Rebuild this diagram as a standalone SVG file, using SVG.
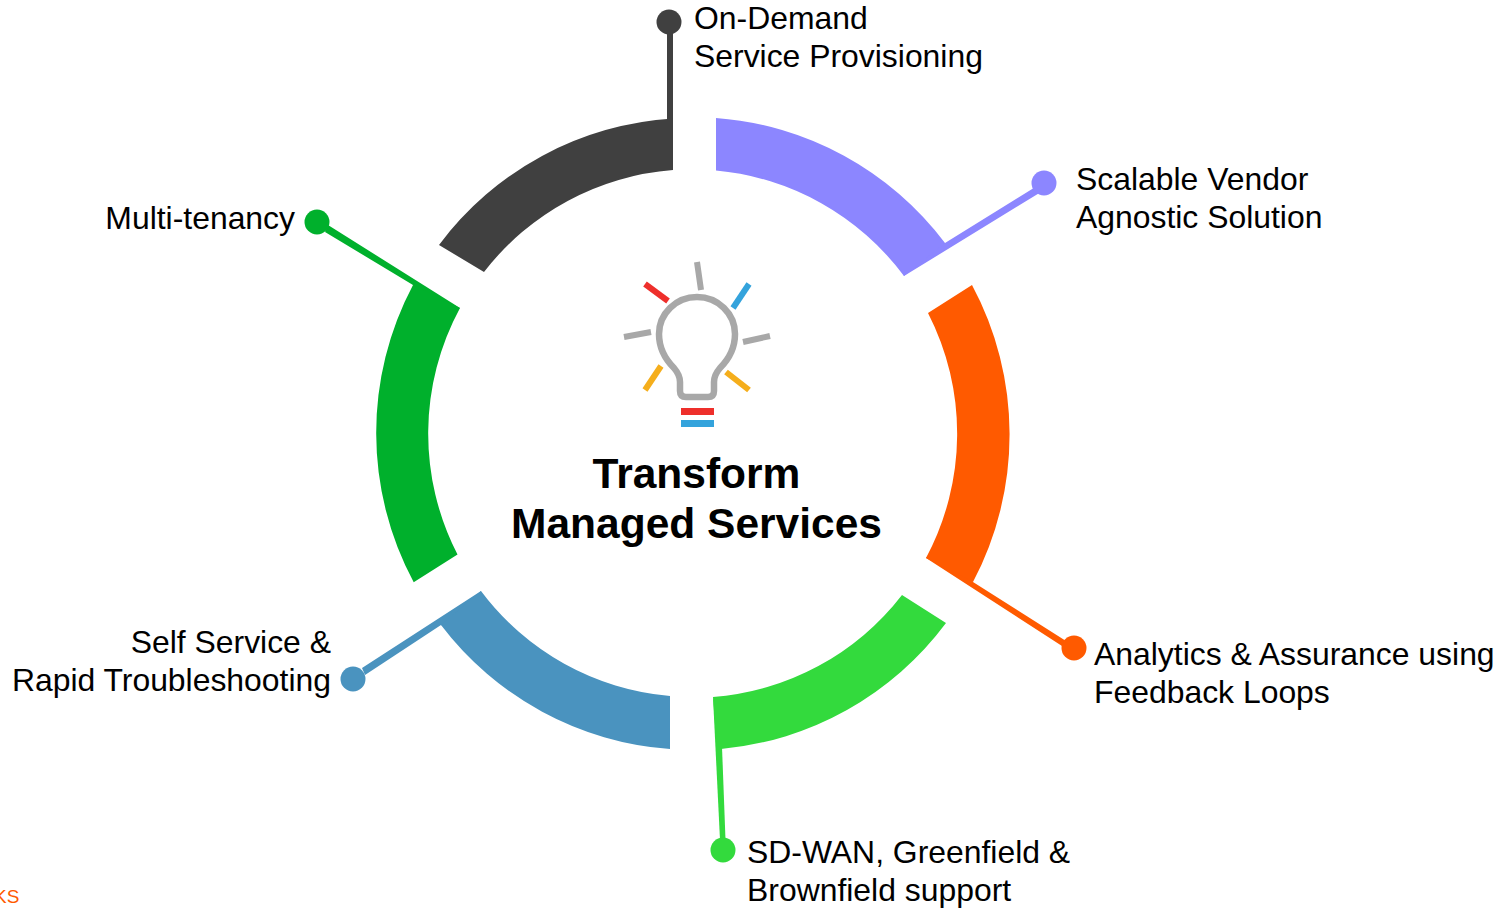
<svg xmlns="http://www.w3.org/2000/svg" width="1505" height="908" viewBox="0 0 1505 908">
<style>
text{font-family:"Liberation Sans",Arial,sans-serif;font-size:31.9px;fill:#000}
.title{font-size:42.5px;font-weight:bold;text-anchor:middle}
.end{text-anchor:end}
.ray{fill:none;stroke-width:6}
</style>
<rect width="1505" height="908" fill="#fff"/>
<g id="connectors">
<path fill="#404040" d="M667,22H673V170H667Z"/>
<path fill="#8c86ff" d="M945,243L1037,186L1041,192L904,276L890,240Z"/>
<path fill="#ff5a00" d="M973,582L1066,641L1062,646L926,558L950,530Z"/>
<path fill="#33da3d" d="M713,697L721,720L725.500,840L720,840Z"/>
<path fill="#4a93bf" d="M481,591L362,668L365,675L441,625L480,640Z"/>
<path fill="#00b02c" d="M460,308L328,225L325,232L413,285L420,330Z"/>
</g>
<g id="node-on-demand">
<path fill="#404040" d="M673,118.500A316,316 0 0 0 439,245L484,272A264,264 0 0 1 673,170Z"/>
<circle cx="669" cy="22" r="12.500" fill="#404040"/>
<text x="694" y="29">On-Demand</text><text x="694" y="67">Service Provisioning</text>
</g>
<g id="node-scalable">
<path fill="#8c86ff" d="M716,118A316,316 0 0 1 945,243L904,276A264,264 0 0 0 716,170.500Z"/>
<circle cx="1044" cy="183" r="12.500" fill="#8c86ff"/>
<text x="1076" y="190">Scalable Vendor</text><text x="1076" y="228">Agnostic Solution</text>
</g>
<g id="node-analytics">
<path fill="#ff5a00" d="M972,285A316,316 0 0 1 973,582L926,558A264,264 0 0 0 928,313Z"/>
<circle cx="1074" cy="648" r="12.500" fill="#ff5a00"/>
<text x="1094" y="665">Analytics &amp; Assurance using</text><text x="1094" y="703">Feedback Loops</text>
</g>
<g id="node-sdwan">
<path fill="#33da3d" d="M946,623A316,316 0 0 1 721,749H717L713,697A264,264 0 0 0 902,595Z"/>
<circle cx="723" cy="850" r="12.500" fill="#33da3d"/>
<text x="747" y="863">SD-WAN, Greenfield &amp;</text><text x="747" y="901">Brownfield support</text>
</g>
<g id="node-self-service">
<path fill="#4a93bf" d="M670,749A316,316 0 0 1 441,625L481,591A264,264 0 0 0 670,696Z"/>
<circle cx="353" cy="679" r="12.500" fill="#4a93bf"/>
<text class="end" x="331" y="653">Self Service &amp;</text><text class="end" x="331" y="691">Rapid Troubleshooting</text>
</g>
<g id="node-multi-tenancy">
<path fill="#00b02c" d="M413.700,582.300A316,316 0 0 1 413,285L460,308A264,264 0 0 0 457.500,554.500Z"/>
<circle cx="317" cy="222" r="12.500" fill="#00b02c"/>
<text class="end" x="295" y="229">Multi-tenancy</text>
</g>
<g id="node-center">
<g class="ray">
<path stroke="#a8a8a8" d="M697,262L701,290M624,337L651,332M743,342L770,336"/>
<path stroke="#ee2f2b" d="M645,284L668,301"/>
<path stroke="#34a3dc" d="M749,284L733,308"/>
<path stroke="#f5ae1c" d="M661,366L645,390M726,372L749,390"/>
</g>
<path fill="none" stroke="#a8a8a8" stroke-width="6.500" d="M686,397H708Q714,397 714,391V382Q714,375 720,368C728,360 735,350 735,334A38,37 0 0 0 659,334C659,350 666,360 674,368Q680,375 680,382V391Q680,397 686,397Z"/>
<rect x="681" y="408" width="33" height="7" fill="#ee2f2b"/>
<rect x="681" y="420" width="33" height="7" fill="#34a3dc"/>
<text class="title" x="696.500" y="487.500">Transform</text><text class="title" x="696.500" y="538">Managed Services</text>
</g>
<text x="-6" y="903" style="font-size:19px;fill:#ff5a00">KS</text>
</svg>
